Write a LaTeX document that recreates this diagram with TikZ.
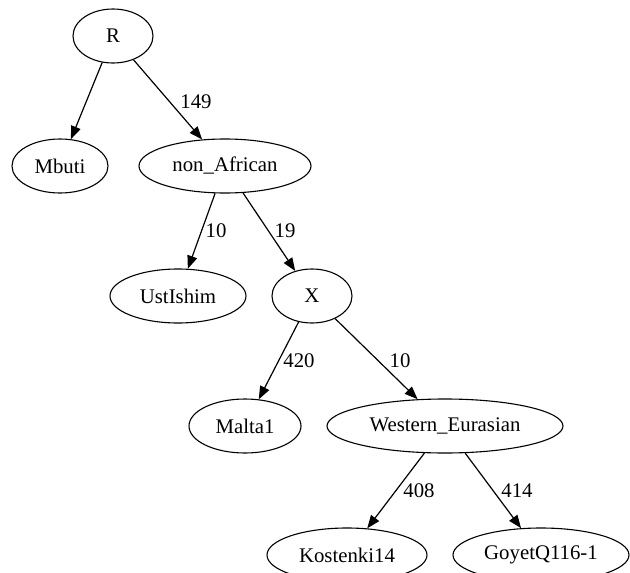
\documentclass[tikz,border=0pt]{standalone}
\usepackage{fontspec}
\setmainfont{Liberation Serif}
\usepackage{tikz}
\usetikzlibrary{arrows.meta,shapes.geometric}

\begin{document}
\begin{tikzpicture}[
  x=1pt, y=-1pt,
  font=\fontsize{20.8}{25}\selectfont,
  pop/.style={draw, ellipse, line width=1.1pt, inner sep=0pt, minimum height=54pt, align=center},
  arr/.style={-{Triangle[length=13pt,width=10pt]}, line width=1.2pt},
  lbl/.style={inner sep=0pt}
]
\useasboundingbox (0,0) rectangle (630,573);

\node[pop, minimum width=80pt] (R) at (113,36) {R};
\node[pop, minimum width=96pt] (mbuti) at (60,166) {Mbuti};
\node[pop, minimum width=172pt] (nonafr) at (225,166) {non\_African};
\node[pop, minimum width=136pt] (ust) at (178,296) {UstIshim};
\node[pop, minimum width=80pt] (X) at (312,296) {X};
\node[pop, minimum width=112pt] (malta) at (245,426) {Malta1};
\node[pop, minimum width=236pt] (weur) at (445,426) {Western\_Eurasian};
\node[pop, minimum width=160pt] (kost) at (347,555) {Kostenki14};
\node[pop, minimum width=176pt] (goyet) at (541,555) {GoyetQ116-1};

\draw[arr] (R) -- (mbuti);
\draw[arr] (R) -- (nonafr);
\draw[arr] (nonafr) -- (ust);
\draw[arr] (nonafr) -- (X);
\draw[arr] (X) -- (malta);
\draw[arr] (X) -- (weur);
\draw[arr] (weur) -- (kost);
\draw[arr] (weur) -- (goyet);

% branch lengths
\node[lbl] (l149) at (196,102) {149};
\node[lbl] (l10a) at (216,231) {10};
\node[lbl] (l19) at (285,231) {19};
\node[lbl] (l420) at (299,361) {420};
\node[lbl] (l10b) at (400,361) {10};
\node[lbl] (l408) at (419,491) {408};
\node[lbl] (l414) at (517,491) {414};
\end{tikzpicture}
\end{document}
